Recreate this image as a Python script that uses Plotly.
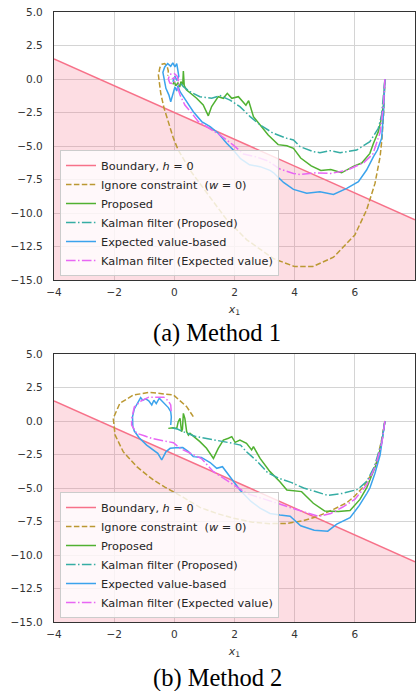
import plotly.graph_objects as go
from plotly.subplots import make_subplots

# ---------------- data ----------------
boundary_x = [-4.0, 8.0]
boundary_y = [1.5, -10.5]

x_ticks = [-4, -2, 0, 2, 4, 6, 8]
y_ticks = [-15.0, -12.5, -10.0, -7.5, -5.0, -2.5, 0.0, 2.5, 5.0]

# --- (a) Method 1 ---
a_ignore_x = [7.0, 6.96, 6.9, 6.84, 6.67, 6.39, 6.0, 5.29, 4.6, 4.0, 3.29, 2.41, 1.74, 1.08, 0.52, 0.13, -0.03,
              -0.2, -0.34, -0.45, -0.51, -0.53, -0.48, -0.41, -0.32, -0.24, -0.2, -0.22]
a_ignore_y = [0.0, -2.5, -4.5, -5.8, -7.79, -9.78, -11.64, -13.3, -14.0, -14.0, -13.4, -12.0, -10.5, -8.5, -6.8,
              -5.3, -4.43, -3.2, -2.19, -1.1, -0.3, 0.3, 0.85, 1.1, 1.15, 0.95, 0.6, 0.25]

a_prop_x = [7.0, 6.95, 6.86, 6.78, 6.62, 6.5, 6.23, 5.95, 5.56, 5.2, 4.87, 4.55, 4.2, 3.96, 3.74, 3.45, 3.12,
            2.85, 2.63, 2.47, 2.38, 2.13, 1.91, 1.76, 1.63, 1.46, 1.24, 1.13, 0.96, 0.74, 0.52, 0.4, 0.33, 0.3,
            0.28, 0.22, 0.18, 0.12, 0.05, 0.0, -0.05]
a_prop_y = [0.0, -1.94, -3.18, -3.93, -4.8, -5.55, -6.27, -6.52, -7.0, -6.75, -6.82, -6.48, -5.9, -5.17, -4.98,
            -4.9, -4.18, -3.45, -2.81, -1.62, -1.95, -1.32, -1.44, -1.07, -1.44, -1.32, -2.06, -2.75, -1.94,
            -1.44, -1.07, -0.8, -0.5, 0.6, -0.4, -0.2, -0.6, -0.3, -0.5, -0.2, -0.4]

a_kprop_x = [7.0, 6.95, 6.89, 6.78, 6.5, 6.06, 5.51, 5.18, 4.84, 4.62, 4.18, 3.96, 3.74, 3.29, 2.85, 2.52, 2.18,
             1.85, 1.52, 1.24, 0.85, 0.52, 0.3, 0.2]
a_kprop_y = [0.0, -1.44, -2.69, -3.68, -4.68, -5.3, -5.5, -5.35, -5.5, -5.42, -5.05, -4.55, -4.43, -4.05, -3.43,
             -2.81, -2.06, -1.57, -1.24, -1.44, -1.32, -0.95, -0.57, -0.3]

a_exp_x = [7.0, 6.95, 6.89, 6.75, 6.62, 6.39, 6.12, 5.73, 5.29, 4.84, 4.4, 3.96, 3.63, 3.3, 3.18, 2.85, 2.5, 2.2,
           1.96, 1.74, 1.46, 1.19, 0.91, 0.63, 0.41, 0.19, 0.12, 0.08, 0.02, -0.05, -0.12, -0.18, -0.28, -0.33,
           -0.38, -0.32, -0.22, -0.12, -0.05, 0.02, 0.08, 0.12, 0.15, 0.08, 0.02, -0.05]
a_exp_y = [0.0, -2.69, -4.43, -5.3, -5.8, -6.79, -7.66, -8.16, -8.62, -8.41, -8.53, -8.24, -7.72, -7.0, -6.82,
           -6.54, -6.4, -5.95, -5.3, -4.8, -4.05, -3.56, -3.18, -2.44, -1.69, -0.95, -0.5, -0.9, -0.6, -1.1,
           -1.7, -1.2, -0.7, -0.1, 0.5, 0.9, 1.15, 0.95, 1.2, 0.9, 1.15, 0.6, 0.2, -0.1, 0.2, -0.2]

a_kexp_x = [7.0, 6.95, 6.84, 6.6, 6.3, 5.73, 5.2, 4.7, 4.2, 3.96, 3.51, 3.1, 2.7, 2.3, 1.96, 1.52, 1.07, 0.8,
            0.58, 0.35, 0.19, 0.12, 0.15, 0.1, 0.0, -0.15, -0.2, -0.15, -0.05, 0.05, 0.0, -0.08]
a_kexp_y = [0.0, -1.94, -4.0, -5.6, -6.24, -6.82, -7.05, -7.0, -7.13, -7.05, -6.72, -6.1, -5.8, -5.6, -4.93,
            -4.18, -3.56, -3.18, -2.56, -1.94, -1.19, -0.7, -0.3, 0.2, 0.4, 0.35, 0.0, -0.3, -0.35, -0.1, 0.1, 0.0]

# --- (b) Method 2 ---
b_ignore_x = [7.0, 6.9, 6.73, 6.55, 6.4, 6.29, 6.0, 5.73, 5.29, 4.74, 4.29, 3.74, 3.18, 2.6, 1.96, 1.41, 0.85,
              0.3, -0.3, -0.7, -1.25, -1.7, -1.97, -2.03, -1.81, -1.36, -0.81, -0.03, 0.41, 0.63]
b_ignore_y = [0.0, -1.29, -3.03, -4.0, -4.5, -4.9, -5.6, -6.1, -6.6, -7.14, -7.44, -7.64, -7.66, -7.55, -7.25,
              -6.9, -6.45, -5.7, -4.95, -4.4, -3.41, -2.29, -1.04, 0.2, 1.32, 1.94, 2.14, 1.94, 1.07, 0.32]

b_prop_x = [7.0, 6.9, 6.75, 6.5, 6.4, 6.17, 5.84, 5.45, 5.0, 4.62, 4.23, 3.74, 3.51, 3.18, 2.85, 2.63, 2.57, 2.4,
            2.18, 2.02, 1.91, 1.8, 1.63, 1.46, 1.3, 1.07, 0.85, 0.52, 0.47, 0.41, 0.35, 0.3, 0.27, 0.24, 0.19,
            0.13, 0.08, -0.05, -0.2]
b_prop_y = [0.0, -1.5, -3.0, -4.4, -4.95, -5.85, -6.68, -6.75, -6.72, -6.14, -5.27, -5.15, -4.53, -3.78, -2.79,
            -1.92, -2.16, -1.67, -1.42, -1.59, -1.17, -1.29, -1.42, -2.04, -2.79, -2.04, -1.54, -0.92, -1.05,
            -0.8, 0.2, 0.57, -0.6, -0.8, 0.2, -0.05, -0.55, -0.5, -0.55]

b_kprop_x = [7.0, 6.9, 6.65, 6.4, 6.1, 5.6, 5.1, 4.7, 4.3, 3.9, 3.5, 3.1, 2.75, 2.4, 2.2, 1.9, 1.5, 1.1, 0.7, 0.3,
             0.1, -0.1]
b_kprop_y = [0.0, -1.5, -3.4, -4.5, -5.1, -5.4, -5.55, -5.3, -5.0, -4.6, -4.3, -3.85, -3.0, -2.3, -1.8, -1.65,
             -1.5, -1.35, -1.15, -0.8, -0.6, -0.5]

b_exp_x = [7.0, 6.93, 6.84, 6.67, 6.5, 6.4, 6.15, 5.84, 5.4, 5.1, 4.65, 4.2, 3.85, 3.51, 3.18, 2.85, 2.55, 2.18,
           1.88, 1.6, 1.41, 1.19, 0.9, 0.63, 0.47, 0.28, 0.05, -0.14, -0.28, -0.42, -0.55, -0.75, -0.92, -1.17,
           -1.33, -1.38, -1.39, -1.33, -1.2, -1.12, -1.05, -0.95, -0.85, -0.75, -0.68, -0.6, -0.5, -0.42, -0.3,
           -0.2, -0.12, -0.1, -0.12]
b_exp_y = [0.0, -1.29, -2.54, -3.9, -5.0, -5.4, -6.3, -7.22, -7.7, -8.22, -8.15, -7.82, -7.1, -7.02, -6.9, -6.5,
           -6.0, -5.15, -4.2, -3.41, -3.53, -3.1, -2.72, -2.66, -2.29, -1.98, -2.0, -2.04, -2.3, -2.91, -2.41,
           -2.1, -1.8, -1.25, -0.75, -0.4, 0.32, 0.9, 1.5, 1.75, 1.55, 1.65, 1.5, 1.2, 1.55, 1.3, 1.7, 1.5, 1.2,
           1.0, 0.7, 0.3, -0.3]

b_kexp_x = [7.0, 6.9, 6.7, 6.4, 6.0, 5.6, 5.2, 4.8, 4.4, 3.85, 3.3, 2.85, 2.4, 2.1, 1.74, 1.3, 0.9, 0.5, 0.19,
            -0.03, -0.4, -0.75, -1.0, -1.25, -1.42, -1.42, -1.33, -1.1, -0.85, -0.55, -0.35, -0.2, -0.12, -0.1]
b_kexp_y = [0.0, -1.6, -3.3, -4.75, -5.85, -6.42, -6.9, -7.12, -6.85, -6.45, -6.05, -5.75, -5.4, -4.95, -4.4,
            -3.78, -2.8, -2.35, -2.04, -1.62, -1.48, -1.3, -1.1, -0.92, -0.3, 0.15, 1.05, 1.5, 1.78, 1.78, 1.78,
            1.5, 1.2, 0.6]

labels = ["Boundary, <i>h</i> = 0", "Ignore constraint\u00a0 (<i>w</i> = 0)", "Proposed",
          "Kalman filter (Proposed)", "Expected value-based", "Kalman filter (Expected value)"]
captions = ["(a) Method 1", "(b) Method 2"]

# ---------------- style ----------------
C_BOUND = "#f77189"
C_IGN = "#bb9832"
C_PROP = "#50b131"
C_KPROP = "#36ada4"
C_EXP = "#3ba3ec"
C_KEXP = "#e866f4"
FILL = "rgba(247,113,137,0.24)"
DASH = "5.5px,2.4px"
DASHDOT = "9.6px,2.4px,1.5px,2.4px"
LW = 1.5
X_RANGE = [-4, 8]
Y_RANGE = [-15, 5]

W, H = 417, 691
fig = make_subplots(rows=2, cols=1)

panels = [
    (1, "legend", [a_ignore_x, a_ignore_y, a_prop_x, a_prop_y, a_kprop_x, a_kprop_y,
                   a_exp_x, a_exp_y, a_kexp_x, a_kexp_y]),
    (2, "legend2", [b_ignore_x, b_ignore_y, b_prop_x, b_prop_y, b_kprop_x, b_kprop_y,
                    b_exp_x, b_exp_y, b_kexp_x, b_kexp_y]),
]

for row, leg, d in panels:
    # fill region below boundary
    fig.add_trace(go.Scatter(x=boundary_x, y=[Y_RANGE[0]] * len(boundary_x), mode="lines",
                             line=dict(width=0), showlegend=False, hoverinfo="skip"), row=row, col=1)
    fig.add_trace(go.Scatter(x=boundary_x, y=boundary_y, mode="lines", fill="tonexty", fillcolor=FILL,
                             line=dict(width=0), showlegend=False, hoverinfo="skip"), row=row, col=1)
    fig.add_trace(go.Scatter(x=boundary_x, y=boundary_y, mode="lines", name=labels[0], legend=leg,
                             line=dict(color=C_BOUND, width=LW)), row=row, col=1)
    styles = [(C_IGN, DASH), (C_PROP, "solid"), (C_KPROP, DASHDOT), (C_EXP, "solid"), (C_KEXP, DASHDOT)]
    for i, (c, dsh) in enumerate(styles):
        fig.add_trace(go.Scatter(x=d[2 * i], y=d[2 * i + 1], mode="lines", name=labels[i + 1], legend=leg,
                                 line=dict(color=c, width=LW, dash=dsh)), row=row, col=1)

x_dom = [54 / W, 415 / W]
y_doms = [[1 - 280 / H, 1 - 12 / H], [1 - 622 / H, 1 - 354 / H]]

axis_common = dict(showgrid=True, gridcolor="#d4d4d4", gridwidth=1, zeroline=False, showline=True,
                   mirror=True, linecolor="#333333", linewidth=1.3, automargin=False,
                   tickfont=dict(family="DejaVu Sans", size=10.5, color="#333333"))

for r in (1, 2):
    fig.update_xaxes(row=r, col=1, domain=x_dom, range=X_RANGE, tickvals=x_ticks,
                     ticks="outside", ticklen=2, tickcolor="rgba(0,0,0,0)",
                     title=dict(text="<i>x</i><sub>1</sub>", standoff=8,
                                font=dict(family="DejaVu Sans", size=11, color="#333333")),
                     **axis_common)
    fig.update_yaxes(row=r, col=1, domain=y_doms[r - 1], range=Y_RANGE, tickvals=y_ticks,
                     tickformat=".1f", ticks="outside", ticklen=8, tickcolor="rgba(0,0,0,0)",
                     **axis_common)

leg_common = dict(xanchor="left", yanchor="bottom", bgcolor="rgba(255,255,255,0.8)", bordercolor="#cccccc",
                  borderwidth=1, font=dict(family="DejaVu Sans", size=11.3, color="#262626"),
                  tracegroupgap=0, itemwidth=30, traceorder="normal")

fig.update_layout(
    width=W, height=H, margin=dict(l=0, r=0, t=0, b=0, autoexpand=False),
    paper_bgcolor="white", plot_bgcolor="white",
    legend=dict(x=60 / W, y=1 - 276 / H, **leg_common),
    legend2=dict(x=60 / W, y=1 - 618 / H, **leg_common),
    annotations=[
        dict(text=captions[0], x=217 / W, y=1 - 333 / H, xref="paper", yref="paper", showarrow=False,
             xanchor="center", yanchor="middle",
             font=dict(family="Liberation Serif", size=24.5, color="black")),
        dict(text=captions[1], x=217 / W, y=1 - 678 / H, xref="paper", yref="paper", showarrow=False,
             xanchor="center", yanchor="middle",
             font=dict(family="Liberation Serif", size=24.5, color="black")),
    ],
)

fig.write_html("out.html", config={"displayModeBar": False},
               post_script="document.body.style.margin='0';document.body.style.overflow='hidden';")
